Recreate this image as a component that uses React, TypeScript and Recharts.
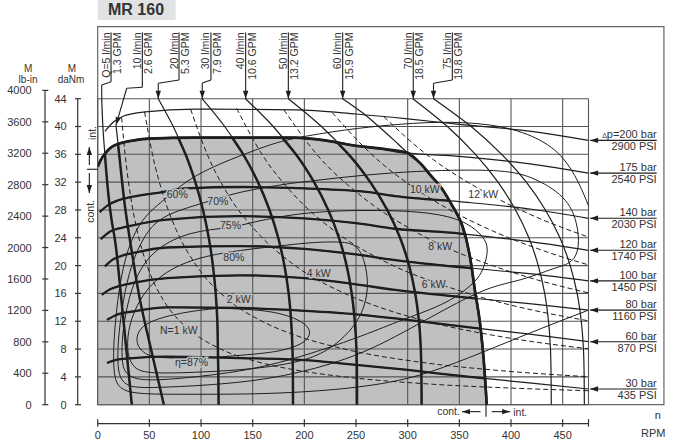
import React from "react";
import {
  ComposedChart,
  XAxis,
  YAxis,
  Area,
  Line,
  ReferenceLine,
  ReferenceDot,
  ReferenceArea,
} from "recharts";

type Pt = [number, number]; // [rpm, daNm]

const RPM_TICKS = [0, 50, 100, 150, 200, 250, 300, 350, 400, 450, 475];
const DANM_TICKS = [0, 4, 8, 12, 16, 20, 24, 28, 32, 36, 40, 44];
const LBIN_TICKS = [0, 400, 800, 1200, 1600, 2000, 2400, 2800, 3200, 3600, 4000];
const LBIN_MAX = 4000;
const DANM_MAX = 45.19; // 4000 lb-in expressed in daNm

// upper edge of the grey "continuous duty" field
const GRAY_TOP: Pt[] = [
  [0, 34.2], [3, 35.2], [7, 36.1], [13, 37], [22, 37.6], [35, 38], [50, 38.25],
  [94, 38.4], [190, 38.4], [220, 38], [247, 37.3], [275, 36.8], [295, 36.4],
  [300, 36.2], [313, 34.6], [322, 33], [332, 31.3], [342, 28.9], [352, 26.1],
  [360, 21.5], [365, 16.5], [370, 11.7], [373.3, 6.9], [376.5, 0],
];

// pressure lines (torque vs speed)
const P200: Pt[] = [[7, 39.3], [15, 40.6], [25, 41.5], [46, 42.1], [94, 42.5], [191, 42.4], [250, 41.8], [300, 41.1], [350, 40.3], [420, 39.3], [475, 38.0]];
const P175: Pt[] = [[0, 34.2], [3, 35.2], [7, 36.1], [13, 37], [22, 37.6], [35, 38], [50, 38.25], [94, 38.4], [190, 38.4], [220, 38], [247, 37.3], [275, 36.8], [300, 36.2], [350, 35.7], [420, 34.6], [475, 33.3]];
const P140: Pt[] = [[2, 27.7], [10, 28.7], [20, 29.4], [34, 29.9], [60, 30.5], [85, 31.1], [140, 31.3], [200, 31.1], [260, 30.6], [288, 30.0], [350, 29.2], [420, 28.1], [475, 26.8]];
const P120: Pt[] = [[3, 23.8], [12, 24.9], [22, 25.4], [34, 25.8], [67, 26.6], [138, 27.1], [200, 26.8], [250, 26.1], [288, 25.3], [351, 24.6], [420, 23.4], [475, 22.2]];
const P100: Pt[] = [[7, 19.9], [15, 20.9], [25, 21.5], [34, 21.8], [67, 22.6], [138, 22.8], [200, 22.4], [250, 21.6], [288, 20.8], [350, 19.8], [420, 18.8], [475, 17.8]];
const P80: Pt[] = [[4, 15.8], [12, 16.6], [22, 17.1], [34, 17.5], [67, 18.2], [138, 18.6], [200, 18.2], [250, 17.3], [288, 16.5], [350, 15.5], [420, 14.5], [475, 13.6]];
const P60: Pt[] = [[9, 12.2], [18, 12.9], [34, 13.4], [67, 14.0], [138, 13.9], [200, 13.5], [250, 13.0], [288, 12.4], [350, 11.3], [420, 10.1], [475, 9.06]];
const P30: Pt[] = [[9, 6.0], [20, 6.5], [34, 6.7], [67, 6.9], [138, 6.7], [200, 6.4], [235, 5.95], [300, 5.0], [360, 4.0], [420, 3.1], [475, 2.26]];

const PRESSURES: { bar: string; psi: string; pts: Pt[]; delta?: boolean }[] = [
  { bar: "p=200 bar", psi: "2900 PSI", pts: P200, delta: true },
  { bar: "175 bar", psi: "2540 PSI", pts: P175 },
  { bar: "140 bar", psi: "2030 PSI", pts: P140 },
  { bar: "120 bar", psi: "1740 PSI", pts: P120 },
  { bar: "100 bar", psi: "1450 PSI", pts: P100 },
  { bar: "80 bar", psi: "1160 PSI", pts: P80 },
  { bar: "60 bar", psi: "870 PSI", pts: P60 },
  { bar: "30 bar", psi: "435 PSI", pts: P30 },
];

// flow lines (from top to bottom)
const Q5: Pt[] = [[3.9, 44], [5, 40], [7.5, 35], [10.5, 30], [13.5, 26.5], [16.7, 23.7], [21, 18], [25, 12], [29, 6], [33, 0]];
const Q10: Pt[] = [[17.7, 40.2], [21.5, 35], [26.4, 28.5], [33, 22], [41, 15], [50, 9], [57, 4.5], [64, 0]];
const Q20: Pt[] = [[58.6, 44], [73.1, 40], [85, 36], [94.5, 32], [101.9, 28], [107.5, 24], [111.5, 20], [114.2, 16], [115.8, 12], [116.3, 8], [116.8, 4], [117, 0]];
const Q30: Pt[] = [[101, 44], [122.9, 40], [140.8, 36], [155.1, 32], [166.3, 28], [174.7, 24], [180.7, 20], [184.8, 16], [187.2, 12], [188.5, 8], [188.9, 4], [189, 0]];
const Q40: Pt[] = [[143, 44], [169.9, 40], [191.8, 36], [209.4, 32], [223.1, 28], [233.5, 24], [240.9, 20], [245.8, 16], [248.8, 12], [250.4, 8], [250.9, 4], [251, 0]];
const Q50: Pt[] = [[184.5, 44], [216.6, 40], [242.8, 36], [263.8, 32], [280.2, 28], [292.6, 24], [301.4, 20], [307.3, 16], [310.9, 12], [312.7, 8], [313.3, 4], [313.5, 0]];
const Q60: Pt[] = [[237, 44], [256, 42], [272, 40], [287, 38], [300, 36.2], [313, 34.6], [322, 33], [332, 31.3], [342, 28.9], [352, 26.1], [360, 21.5], [365, 16.5], [370, 11.7], [373.3, 6.9], [376.5, 0]];
const Q70: Pt[] = [[305, 44], [338.4, 40], [365.6, 36], [387.4, 32], [404.4, 28], [417.3, 24], [426.4, 20], [432.6, 16], [436.3, 12], [438.2, 8], [438.8, 4], [439, 0]];
const Q75: Pt[] = [[325, 44], [361.4, 40], [391, 36], [414.8, 32], [433.3, 28], [447.3, 24], [457.3, 20], [464, 16], [468, 12], [470.1, 8], [470.8, 4], [471, 0]];

const FLOWS = [Q5, Q10, Q20, Q30, Q40, Q50, Q60, Q70, Q75];

// label columns above the field: text, separator rpm, leader path, arrow angle
const FLOW_TAGS: { q: string; g: string; sep: number; path: Pt[]; deg?: number }[] = [
  { q: "Q=5 l/min", g: "1.3 GPM", sep: 12.9, path: [[12.9, 46.44], [3.9, 45.97], [3.9, 44]] },
  { q: "10 l/min", g: "2.6 GPM", sep: 43.2, path: [[43.2, 45.64], [28.1, 45.5], [17.7, 40.2]], deg: 106 },
  { q: "20 l/min", g: "5.3 GPM", sep: 78.7, path: [[78.7, 46.69], [58.6, 46.21], [58.6, 44]], deg: 90 },
  { q: "30 l/min", g: "7.9 GPM", sep: 109.6, path: [[109.6, 46.69], [101.2, 46.26], [101.2, 44]], deg: 90 },
  { q: "40 l/min", g: "10.6 GPM", sep: 143.2, path: [[143.2, 44]], deg: 90 },
  { q: "50 l/min", g: "13.2 GPM", sep: 184.5, path: [[184.5, 44]], deg: 90 },
  { q: "60 l/min", g: "15.9 GPM", sep: 237.1, path: [[237.1, 44]], deg: 90 },
  { q: "70 l/min", g: "18.5 GPM", sep: 305.4, path: [[305.4, 44]], deg: 90 },
  { q: "75 l/min", g: "19.8 GPM", sep: 343.2, path: [[343.2, 46.69], [325, 46.21], [325, 44]], deg: 90 },
];

// output power lines
const N1: Pt[] = [[23.1, 41.3], [26.5, 36], [31.8, 30], [38.2, 25], [47.8, 20], [63.7, 15], [79.6, 12], [95.5, 10], [119, 8], [159, 6], [191, 5], [239, 4], [318, 3], [400, 2.39], [475, 2.01]];
const N2: Pt[] = [[45.4, 42.1], [53, 36], [63.7, 30], [76.4, 25], [95.5, 20], [127, 15], [159, 12], [191, 10], [239, 8], [318, 6], [382, 5], [475, 4.02]];
const N4: Pt[] = [[89.9, 42.5], [106, 36], [127, 30], [153, 25], [191, 20], [239, 16], [273, 14], [318, 12], [382, 10], [424, 9], [475, 8.04]];
const N6: Pt[] = [[134.5, 42.6], [159, 36], [191, 30], [229, 25], [286, 20], [330, 17.4], [382, 15], [424, 13.5], [475, 12.06]];
const N8: Pt[] = [[180.2, 42.4], [212, 36], [255, 30], [306, 25], [336, 22.7], [382, 20], [424, 18], [475, 16.08]];
const N10: Pt[] = [[227, 42], [265, 36], [308, 31], [341, 28], [382, 25], [434, 22], [475, 20.1]];
const N12: Pt[] = [[277, 41.4], [318, 36], [358, 32], [382, 30], [424, 27], [475, 24.1]];
const POWERS = [N1, N2, N4, N6, N8, N10, N12];

// efficiency contours
const C87: Pt[] = [[120, 13.9], [160, 13.5], [185, 12.7], [200, 11.6], [205, 10.3], [199, 9.0], [185, 8.1], [165, 7.5], [130, 7.0], [95, 6.7], [62, 6.8], [46, 7.4], [38.5, 8.8], [40, 10.5], [50, 11.8], [70, 12.8], [95, 13.5], [120, 13.9]];
const C80: Pt[] = [[150, 22.4], [200, 23.2], [228, 23.4], [248, 22.9], [258, 20.5], [261, 17], [256, 13.5], [243, 10.5], [222, 7.9], [193, 6.2], [150, 5.2], [100, 4.7], [55, 4.6], [36, 5.4], [29.5, 7.5], [30, 10.5], [36, 13.5], [48, 16.5], [70, 19.3], [105, 21.3], [150, 22.4]];
const C75: Pt[] = [[130, 25.5], [200, 27.5], [280, 27.9], [330, 27.3], [357, 26], [372, 24.2], [377, 22.2], [373, 19.6], [364, 17.6], [345, 15.4], [320, 13.6], [290, 11.9], [250, 9.6], [200, 7.1], [150, 5.2], [100, 4.1], [60, 3.6], [37, 3.8], [26, 5], [23.5, 7.5], [25, 11], [31, 15.5], [42, 19.5], [60, 22.5], [90, 24.6], [130, 25.5]];
const C70: Pt[] = [[186, 31.8], [283, 33.3], [375, 33.7], [420, 32.6], [450, 29.8], [463, 26.2], [465, 22.8], [458, 20.6], [440, 19.5], [410, 18], [375, 16.5], [330, 13.2], [288, 9.8], [240, 6.6], [180, 4.2], [120, 3.0], [60, 2.5], [32, 2.7], [22, 4], [19.5, 6.5], [20.5, 10], [25, 15], [33, 20], [45, 24], [65, 27], [102, 29], [140, 30.6], [186, 31.8]];
const C60: Pt[] = [[475, 13.6], [430, 11], [385, 8.3], [335, 5.4], [288, 3.4], [230, 2.2], [160, 1.6], [90, 1.5], [45, 1.6], [25, 2.2], [17.5, 3.6], [15.5, 6], [16, 9.5], [19.5, 15], [27, 21], [40, 25.7], [55, 28.3], [66, 29.7], [80, 31.4], [100, 33.3], [128, 35.2], [160, 37], [191, 38.3], [240, 39.5], [283, 40.2], [330, 40.6], [380, 40.2], [420, 38.6], [448, 35.8], [465, 32], [475, 28.6]];
const CONTOURS = [C87, C80, C75, C70, C60];

const EFF_TAGS: [string, number, number][] = [
  ["60%", 66.8, 29.68], ["70%", 106.1, 28.71], ["75%", 118.4, 25.22], ["80%", 121.6, 20.7], ["η=87%", 74.8, 5.56],
];
const POWER_TAGS: [string, number, number, boolean][] = [
  ["N=1 kW", 60.3, 10.17, true], ["2 kW", 124.8, 14.58, true], ["4 kW", 202.3, 18.4, true],
  ["6 kW", 313.6, 16.74, true], ["8 kW", 320, 22.24, true], ["10 kW", 302.2, 30.4, true], ["12 kW", 358.7, 29.68, false],
];

const FONT = "'Liberation Sans', Arial, Helvetica, sans-serif";
const INK = "#1e1e1e";
const TXT = "#333";
const GRID = "#555";
const FILL = "#bfc0c2";

const rows = (pts: Pt[]) => pts.map(([rpm, t]) => ({ rpm, t }));

// is a point inside the grey field?
const topAt = (r: number) => {
  if (r < 0 || r > GRAY_TOP[GRAY_TOP.length - 1][0]) return -1;
  for (let i = 1; i < GRAY_TOP.length; i++) {
    const [x0, y0] = GRAY_TOP[i - 1];
    const [x1, y1] = GRAY_TOP[i];
    if (r <= x1) return y0 + ((r - x0) / (x1 - x0)) * (y1 - y0);
  }
  return -1;
};
const inside = ([r, t]: Pt) => t >= -0.01 && t <= topAt(r) + 0.08;

// part of a curve that lies inside the grey field (drawn thick)
function innerPart(pts: Pt[]): Pt[] {
  const out: Pt[] = [];
  for (let i = 0; i < pts.length; i++) {
    const p = pts[i];
    const pin = inside(p);
    if (i > 0) {
      const q = pts[i - 1];
      const qin = inside(q);
      if (qin !== pin) {
        let a: Pt = q;
        let b: Pt = p;
        for (let k = 0; k < 30; k++) {
          const m: Pt = [(a[0] + b[0]) / 2, (a[1] + b[1]) / 2];
          if (inside(m) === qin) a = m;
          else b = m;
        }
        out.push(qin ? a : b);
      }
    }
    if (pin) out.push(p);
  }
  return out;
}

const curve = (key: string, pts: Pt[], type: any, w: number, dash?: string) =>
  pts.length < 2 ? null : (
    <Line
      key={key}
      data={rows(pts)}
      dataKey="t"
      type={type}
      stroke={INK}
      strokeWidth={w}
      strokeDasharray={dash}
      dot={false}
      activeDot={false}
      legendType="none"
      isAnimationActive={false}
    />
  );

const seg = (key: string, a: Pt, b: Pt, w = 1, color = INK) => (
  <ReferenceLine
    key={key}
    segment={[{ x: a[0], y: a[1] }, { x: b[0], y: b[1] }]}
    stroke={color}
    strokeWidth={w}
    ifOverflow="visible"
  />
);

const arrow = (key: string, p: Pt, deg: number) => (
  <ReferenceDot
    key={key}
    x={p[0]}
    y={p[1]}
    ifOverflow="visible"
    shape={(s: any) => (
      <polygon points="0,0 -8,-2.7 -8,2.7" fill={INK} transform={`translate(${s.cx},${s.cy}) rotate(${deg})`} />
    )}
  />
);

const label = (
  key: string,
  p: Pt,
  text: React.ReactNode,
  o: { anchor?: string; size?: number; rot?: boolean; halo?: string; weight?: string } = {}
) => (
  <ReferenceDot
    key={key}
    x={p[0]}
    y={p[1]}
    ifOverflow="visible"
    shape={(s: any) => (
      <text
        x={s.cx}
        y={s.cy}
        textAnchor={o.anchor ?? "start"}
        fontSize={o.size ?? 10.5}
        fontFamily={FONT}
        fontWeight={o.weight}
        fill={TXT}
        stroke={o.halo ?? "none"}
        strokeWidth={o.halo ? 3 : 0}
        paintOrder="stroke"
        transform={o.rot ? `rotate(-90 ${s.cx} ${s.cy})` : undefined}
      >
        {text}
      </text>
    )}
  />
);

const XTick = (p: any) => (
  <g>
    <line x1={p.x} x2={p.x} y1={p.y + 14.5} y2={p.y + 22} stroke="#333" strokeWidth={1.2} />
    {p.payload.value < 475 && (
      <text x={p.x} y={p.y + 34.3} textAnchor="middle" fontSize={11} fontFamily={FONT} fill={TXT}>
        {p.payload.value}
      </text>
    )}
  </g>
);

const DanmTick = (p: any) => (
  <g>
    <line x1={p.x - 22.7} x2={p.x - 16.7} y1={p.y} y2={p.y} stroke="#333" strokeWidth={1.2} />
    <text x={p.x - 31} y={p.y + 4} textAnchor="end" fontSize={11} fontFamily={FONT} fill={TXT}>
      {p.payload.value}
    </text>
  </g>
);

const LbTick = (p: any) => (
  <g>
    <line x1={p.x - 54.4} x2={p.x - 48.4} y1={p.y} y2={p.y} stroke="#333" strokeWidth={1.2} />
    <text x={p.x - 65} y={p.y + 4} textAnchor="end" fontSize={11} fontFamily={FONT} fill={TXT}>
      {p.payload.value}
    </text>
  </g>
);

export default function App() {
  const flowTop = 53.52;
  const tagEnd = 541;
  const tagTip = 476.5;

  return (
    <div style={{ position: "absolute", left: 0, top: 0, background: "#fff" }}>
      <ComposedChart
        width={685}
        height={447}
        data={rows(GRAY_TOP)}
        margin={{ top: 90.4, right: 96.5, bottom: 41.3, left: 95.7 }}
      >
        <XAxis
          dataKey="rpm"
          type="number"
          domain={[0, 475]}
          ticks={RPM_TICKS}
          interval={0}
          allowDataOverflow
          height={1}
          tickSize={0}
          tickMargin={0}
          axisLine={false}
          tickLine={false}
          tick={(p: any) => <XTick {...p} />}
        />
        <YAxis
          type="number"
          domain={[0, DANM_MAX]}
          ticks={DANM_TICKS}
          interval={0}
          allowDataOverflow
          width={1}
          tickSize={0}
          tickMargin={0}
          axisLine={false}
          tickLine={false}
          tick={(p: any) => <DanmTick {...p} />}
        />
        <YAxis
          yAxisId="lb"
          type="number"
          domain={[0, LBIN_MAX]}
          ticks={LBIN_TICKS}
          interval={0}
          allowDataOverflow
          width={1}
          tickSize={0}
          tickMargin={0}
          axisLine={false}
          tickLine={false}
          tick={(p: any) => <LbTick {...p} />}
        />

        {/* frame and title box */}
        <ReferenceArea x1={0} x2={548} y1={0} y2={54.35} fill="none" stroke="#666" strokeWidth={1.2} ifOverflow="visible" />
        <ReferenceArea x1={0} x2={75.5} y1={55.31} y2={58.3} fill="#c4c5c7" stroke="none" ifOverflow="visible" />
        {label("title", [10, 55.96], "MR 160", { size: 16, weight: "bold" })}

        <Area
          dataKey="t"
          type="monotone"
          fill={FILL}
          fillOpacity={1}
          stroke={INK}
          strokeWidth={2.6}
          dot={false}
          activeDot={false}
          isAnimationActive={false}
        />

        {/* grid */}
        {RPM_TICKS.map((r) => seg(`gv${r}`, [r, 0], [r, 44], 1.1, GRID))}
        {DANM_TICKS.map((t) => seg(`gh${t}`, [0, t], [475, t], 1.1, GRID))}

        {/* axis lines */}
        {seg("ax-danm", [-19.35, 0], [-19.35, 44], 1.2, "#333")}
        {seg("ax-lb", [-51, 0], [-51, DANM_MAX], 1.2, "#333")}
        {seg("ax-rpm", [0, -2.732], [475, -2.732], 1.2, "#333")}

        {/* efficiency contours */}
        {CONTOURS.map((c, i) => curve(`eff${i}`, c, "natural", 1))}

        {/* power lines */}
        {POWERS.map((c, i) => curve(`pw${i}`, c, "monotoneX", 1, "5 3"))}

        {/* pressure lines */}
        {PRESSURES.map((p, i) => curve(`pr${i}`, p.pts, "monotoneX", 1.2))}
        {PRESSURES.map((p, i) => curve(`prc${i}`, innerPart(p.pts), "monotoneX", 2.3))}

        {/* flow lines */}
        {FLOWS.map((q, i) => curve(`fl${i}`, q, "monotoneY", 1.2))}
        {FLOWS.map((q, i) => curve(`flc${i}`, innerPart(q), "monotoneY", 2.5))}

        {/* flow labels and leaders */}
        {FLOW_TAGS.map((f, i) => {
          const pts: Pt[] = [[f.sep, flowTop], ...f.path];
          const out: React.ReactNode[] = [];
          for (let k = 1; k < pts.length; k++) out.push(seg(`fs${i}-${k}`, pts[k - 1], pts[k], 1.1));
          if (f.deg !== undefined) out.push(arrow(`fa${i}`, pts[pts.length - 1], f.deg));
          out.push(
            <ReferenceDot
              key={`ft${i}`}
              x={f.sep}
              y={flowTop}
              ifOverflow="visible"
              shape={(s: any) => (
                <g fontFamily={FONT} fontSize={10.5} fill={TXT}>
                  <text x={s.cx - 1.5} y={s.cy} textAnchor="end" transform={`rotate(-90 ${s.cx - 1.5} ${s.cy})`}>
                    {f.q}
                  </text>
                  <text x={s.cx + 10} y={s.cy} textAnchor="end" transform={`rotate(-90 ${s.cx + 10} ${s.cy})`}>
                    {f.g}
                  </text>
                </g>
              )}
            />
          );
          return out;
        })}

        {/* pressure labels */}
        {PRESSURES.map((p, i) => {
          const t = p.pts[p.pts.length - 1][1];
          return [
            seg(`ps${i}`, [tagTip, t], [tagEnd, t], 1.1),
            arrow(`pa${i}`, [tagTip, t], 180),
            <ReferenceDot
              key={`pt${i}`}
              x={tagEnd}
              y={t}
              ifOverflow="visible"
              shape={(s: any) => (
                <g fontFamily={FONT} fontSize={11} fill={TXT} textAnchor="end">
                  <text x={s.cx} y={s.cy - 2}>
                    {p.delta && <tspan fontSize={7}>Δ</tspan>}
                    {p.bar}
                  </text>
                  <text x={s.cx} y={s.cy + 10}>
                    {p.psi}
                  </text>
                </g>
              )}
            />,
          ];
        })}

        {/* curve labels */}
        {EFF_TAGS.map(([s, r, t], i) => label(`el${i}`, [r, t], s, { halo: FILL }))}
        {POWER_TAGS.map(([s, r, t, g], i) => label(`pl${i}`, [r, t], s, { halo: g ? FILL : "#fff" }))}

        {/* cont. / int. markers, left */}
        {seg("li-tick", [-10.4, 33.85], [0, 33.85], 1.1)}
        {seg("li-up", [-8.1, 34.47], [-8.1, 37.05], 1.1)}
        {arrow("li-upa", [-8.1, 37.05], -90)}
        {seg("li-dn", [-8.1, 33.31], [-8.1, 30.44], 1.1)}
        {arrow("li-dna", [-8.1, 30.44], 90)}
        {label("li-int", [-1.9, 40.07], "int.", { rot: true, anchor: "end" })}
        {label("li-cont", [-3.6, 29.43], "cont.", { rot: true, anchor: "end" })}

        {/* cont. / int. markers, bottom */}
        {seg("bi-tick", [375.8, 0], [375.8, -1.73], 1.1)}
        {seg("bi-l", [370.5, -1.0], [352.6, -1.0], 1.1)}
        {arrow("bi-la", [352.6, -1.0], 180)}
        {seg("bi-r", [381.3, -1.0], [399.1, -1.0], 1.1)}
        {arrow("bi-ra", [399.1, -1.0], 0)}
        {label("bi-cont", [350.6, -1.48], "cont.", { anchor: "end" })}
        {label("bi-int", [402.2, -1.62], "int.")}

        {/* axis titles */}
        {label("t-m1", [-67.4, 47.85], "M", { anchor: "middle", size: 10 })}
        {label("t-lb", [-67.4, 46.21], "lb-in", { anchor: "middle", size: 10 })}
        {label("t-m2", [-24.9, 47.85], "M", { anchor: "middle", size: 10 })}
        {label("t-dn", [-25.8, 46.21], "daNm", { anchor: "middle", size: 10 })}
        {label("t-n", [542, -2.01], "n", { anchor: "middle", size: 11 })}
        {label("t-rpm", [537.7, -4.6], "RPM", { anchor: "middle", size: 11 })}
      </ComposedChart>
    </div>
  );
}
